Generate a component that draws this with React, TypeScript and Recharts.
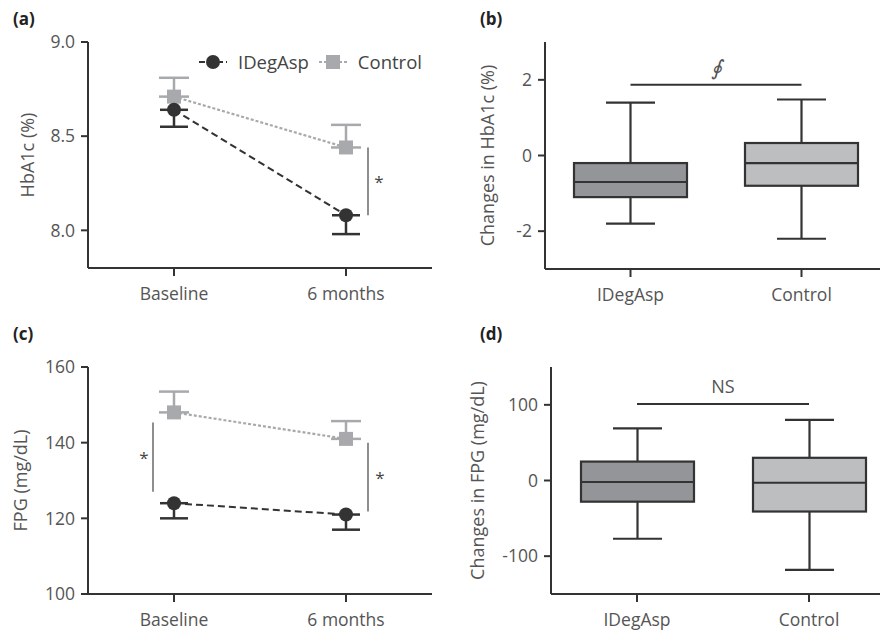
import React from "react";
import {
  Bar, BarChart, ErrorBar, Legend, Line, LineChart, ReferenceLine, XAxis, YAxis,
} from "recharts";

const FONT = "'Open Sans', 'Noto Sans', sans-serif";
const DARK = "#333333";
const LIGHT = "#a7a9ac";
const AXIS = "#333333";
const TEXT = "#555555";
const BOX_FILLS = ["#939598", "#bcbec0"];

const timepoints = ["Baseline", "6 months"];
const seriesNames = ["IDegAsp", "Control"];

const hba1cIDegAsp = [8.64, 8.08];
const hba1cIDegAspSE = [0.09, 0.1];
const hba1cControl = [8.71, 8.44];
const hba1cControlSE = [0.1, 0.12];
const hba1cTicks = [8.0, 8.5, 9.0];

const fpgIDegAsp = [124, 121];
const fpgIDegAspSE = [4, 4];
const fpgControl = [148, 141];
const fpgControlSE = [5.5, 4.7];
const fpgTicks = [100, 120, 140, 160];

const groups = ["IDegAsp", "Control"];
// whisker low, Q1, median, Q3, whisker high
const hba1cChangeIDegAsp = [-1.8, -1.1, -0.7, -0.2, 1.4];
const hba1cChangeControl = [-2.2, -0.8, -0.2, 0.33, 1.48];
const hba1cChangeTicks = [-2, 0, 2];
const fpgChangeIDegAsp = [-77, -28, -2, 25, 69];
const fpgChangeControl = [-118, -41, -3, 30, 80];
const fpgChangeTicks = [-100, 0, 100];

const lineData = (a: number[], aSE: number[], c: number[], cSE: number[]) =>
  timepoints.map((t, i) => ({
    t, ideg: a[i], idegErr: [aSE[i], 0], ctrl: c[i], ctrlErr: [0, cSE[i]],
  }));

const boxData = (a: number[], c: number[]) =>
  [a, c].map((s, i) => ({ g: groups[i], range: [s[0], s[4]], stats: s }));

const tick = { fill: TEXT, fontSize: 17.5, fontFamily: FONT };
const axisLine = { stroke: AXIS, strokeWidth: 2 };
const tickLine = { stroke: AXIS, strokeWidth: 2 };

const yTitle = (text: string, x: number) => ({
  value: text,
  content: ({ viewBox }: any) => {
    const cy = viewBox.y + viewBox.height / 2;
    return (
      <text
        x={x} y={cy} transform={`rotate(-90, ${x}, ${cy})`}
        textAnchor="middle" dominantBaseline="central"
        fill={TEXT} fontSize={18} fontFamily={FONT}
      >
        {text}
      </text>
    );
  },
});

const circleDot = (p: any) => <circle key={`c${p.index}`} cx={p.cx} cy={p.cy} r={7} fill={DARK} />;
const squareDot = (p: any) => (
  <rect key={`s${p.index}`} x={p.cx - 7} y={p.cy - 7} width={14} height={14} fill={LIGHT} />
);

const vBracket = (dx: number, starDx: number) => (p: any) => {
  const x = p.x1 + dx;
  return (
    <g>
      <line x1={x} x2={x} y1={p.y1} y2={p.y2} stroke="#444" strokeWidth={1.2} />
      <text
        x={x + starDx} y={(p.y1 + p.y2) / 2} textAnchor="middle" dominantBaseline="central"
        fill="#444" fontSize={17} fontFamily={FONT}
      >
        *
      </text>
    </g>
  );
};

const hBracket = (label: string, size: number, italic: boolean) => (p: any) => (
  <g>
    <line x1={p.x1} x2={p.x2} y1={p.y1} y2={p.y2} stroke={DARK} strokeWidth={2} />
    <text
      x={(p.x1 + p.x2) / 2} y={p.y1 - 18} textAnchor="middle" dominantBaseline="central"
      fill={TEXT} fontSize={size} fontFamily={FONT} fontStyle={italic ? "italic" : "normal"}
    >
      {label}
    </text>
  </g>
);

const BoxShape = (props: any) => {
  const { x, y, width, height, payload, index } = props;
  const [lo, q1, med, q3, hi] = payload.stats;
  const px = (v: number) => y + ((hi - v) / (hi - lo)) * height;
  const cx = x + width / 2;
  const cap = 49;
  return (
    <g stroke={DARK} strokeWidth={2.2}>
      <line x1={cx} x2={cx} y1={px(hi)} y2={px(q3)} />
      <line x1={cx} x2={cx} y1={px(q1)} y2={px(lo)} />
      <line x1={cx - cap / 2} x2={cx + cap / 2} y1={px(hi)} y2={px(hi)} />
      <line x1={cx - cap / 2} x2={cx + cap / 2} y1={px(lo)} y2={px(lo)} />
      <rect x={x} y={px(q3)} width={width} height={px(q1) - px(q3)} fill={BOX_FILLS[index]} />
      <line x1={x} x2={x + width} y1={px(med)} y2={px(med)} />
    </g>
  );
};

const legendContent = () => (
  <div style={{ display: "flex", alignItems: "center", fontFamily: FONT, fontSize: 18.5, color: "#444" }}>
    {seriesNames.map((n, i) => (
      <span key={n} style={{ display: "flex", alignItems: "center", marginRight: 10 }}>
        <svg width={28} height={18}>
          <line
            x1={0} x2={28} y1={9} y2={9} stroke={i === 0 ? DARK : LIGHT} strokeWidth={2}
            strokeDasharray={i === 0 ? "6 3" : "3 2"}
          />
          {i === 0
            ? <circle cx={14} cy={9} r={7} fill={DARK} />
            : <rect x={7} y={2} width={14} height={14} fill={LIGHT} />}
        </svg>
        <span style={{ marginLeft: 11 }}>{n}</span>
      </span>
    ))}
  </div>
);

function LinePanel(props: any) {
  const { data, domain, ticks, fmt, title, titleX, brackets, legend, width, height, margin } = props;
  return (
    <LineChart width={width} height={height} data={data} margin={margin}>
      <XAxis
        dataKey="t" padding={{ left: 86, right: 86 }} height={30}
        tick={tick} tickSize={8} tickMargin={12} axisLine={axisLine} tickLine={tickLine}
      />
      <YAxis
        type="number" domain={domain} ticks={ticks} allowDataOverflow width={60}
        tickFormatter={fmt} tick={tick} tickSize={7} tickMargin={6}
        axisLine={axisLine} tickLine={tickLine} label={yTitle(title, titleX)}
      />
      {legend && (
        <Legend
          layout="horizontal" verticalAlign="middle" align="center"
          wrapperStyle={{ top: 49, left: 199, width: "auto" }} content={legendContent}
        />
      )}
      <Line
        dataKey="ctrl" name="Control" stroke={LIGHT} strokeWidth={2.2} strokeDasharray="3 2"
        dot={squareDot} activeDot={false} isAnimationActive={false}
      >
        <ErrorBar dataKey="ctrlErr" width={15} strokeWidth={2.5} stroke={LIGHT} direction="y" />
      </Line>
      <Line
        dataKey="ideg" name="IDegAsp" stroke={DARK} strokeWidth={2} strokeDasharray="7 4"
        dot={circleDot} activeDot={false} isAnimationActive={false}
      >
        <ErrorBar dataKey="idegErr" width={14} strokeWidth={2.5} stroke={DARK} direction="y" />
      </Line>
      {brackets.map((b: any, i: number) => (
        <ReferenceLine
          key={i} segment={[{ x: b.x, y: b.y1 }, { x: b.x, y: b.y2 }]}
          shape={vBracket(b.dx, b.starDx)}
        />
      ))}
    </LineChart>
  );
}

function BoxPanel(props: any) {
  const { data, domain, ticks, title, titleX, sig, sigY, sigSize, italic, width, height, margin } = props;
  return (
    <BarChart width={width} height={height} data={data} margin={margin}>
      <XAxis
        dataKey="g" height={30}
        tick={tick} tickSize={8} tickMargin={12} axisLine={axisLine} tickLine={tickLine}
      />
      <YAxis
        type="number" domain={domain} ticks={ticks} allowDataOverflow width={60}
        tick={tick} tickSize={7} tickMargin={6}
        axisLine={axisLine} tickLine={tickLine} label={yTitle(title, titleX)}
      />
      <Bar dataKey="range" barSize={113} shape={BoxShape} isAnimationActive={false} />
      <ReferenceLine
        segment={[{ x: groups[0], y: sigY }, { x: groups[1], y: sigY }]}
        shape={hBracket(sig, sigSize, italic)}
      />
    </BarChart>
  );
}

const panelLabel = (text: string, left: number, top: number) => (
  <div
    style={{
      position: "absolute", left, top, fontFamily: FONT, fontWeight: 700,
      fontSize: 17, lineHeight: "17px", color: "#222",
    }}
  >
    {text}
  </div>
);

export default function App() {
  return (
    <div
      style={{
        position: "absolute", left: 0, top: 0, width: 880, height: 631,
        overflow: "hidden", background: "#fff",
      }}
    >
      <div style={{ position: "absolute", left: 0, top: 0 }}>
        <LinePanel
          width={440} height={312} margin={{ top: 42, right: 8, bottom: 14, left: 28 }}
          data={lineData(hba1cIDegAsp, hba1cIDegAspSE, hba1cControl, hba1cControlSE)}
          domain={[7.8, 9.0]} ticks={hba1cTicks} fmt={(v: number) => v.toFixed(1)}
          title="HbA1c (%)" titleX={27} legend
          brackets={[{ x: timepoints[1], y1: 8.08, y2: 8.44, dx: 22, starDx: 11 }]}
        />
      </div>
      <div style={{ position: "absolute", left: 0, top: 310 }}>
        <LinePanel
          width={440} height={321} margin={{ top: 57, right: 8, bottom: 7, left: 28 }}
          data={lineData(fpgIDegAsp, fpgIDegAspSE, fpgControl, fpgControlSE)}
          domain={[100, 160]} ticks={fpgTicks} fmt={(v: number) => String(v)}
          title="FPG (mg/dL)" titleX={20}
          brackets={[
            { x: timepoints[0], y1: 127, y2: 145.3, dx: -21, starDx: -9 },
            { x: timepoints[1], y1: 121.8, y2: 140, dx: 22, starDx: 12 },
          ]}
        />
      </div>
      <div style={{ position: "absolute", left: 440, top: 0 }}>
        <BoxPanel
          width={450} height={312} margin={{ top: 42, right: 3, bottom: 13, left: 45 }}
          data={boxData(hba1cChangeIDegAsp, hba1cChangeControl)}
          domain={[-3, 3]} ticks={hba1cChangeTicks}
          title="Changes in HbA1c (%)" titleX={47}
          sig="∮" sigY={1.87} sigSize={21} italic
        />
      </div>
      <div style={{ position: "absolute", left: 440, top: 310 }}>
        <BoxPanel
          width={458} height={321} margin={{ top: 57, right: 3, bottom: 7, left: 51 }}
          data={boxData(fpgChangeIDegAsp, fpgChangeControl)}
          domain={[-150, 150]} ticks={fpgChangeTicks}
          title="Changes in FPG (mg/dL)" titleX={37}
          sig="NS" sigY={101} sigSize={18} italic={false}
        />
      </div>
      {panelLabel("(a)", 13, 10)}
      {panelLabel("(b)", 480, 10)}
      {panelLabel("(c)", 13, 325)}
      {panelLabel("(d)", 480, 325)}
    </div>
  );
}
